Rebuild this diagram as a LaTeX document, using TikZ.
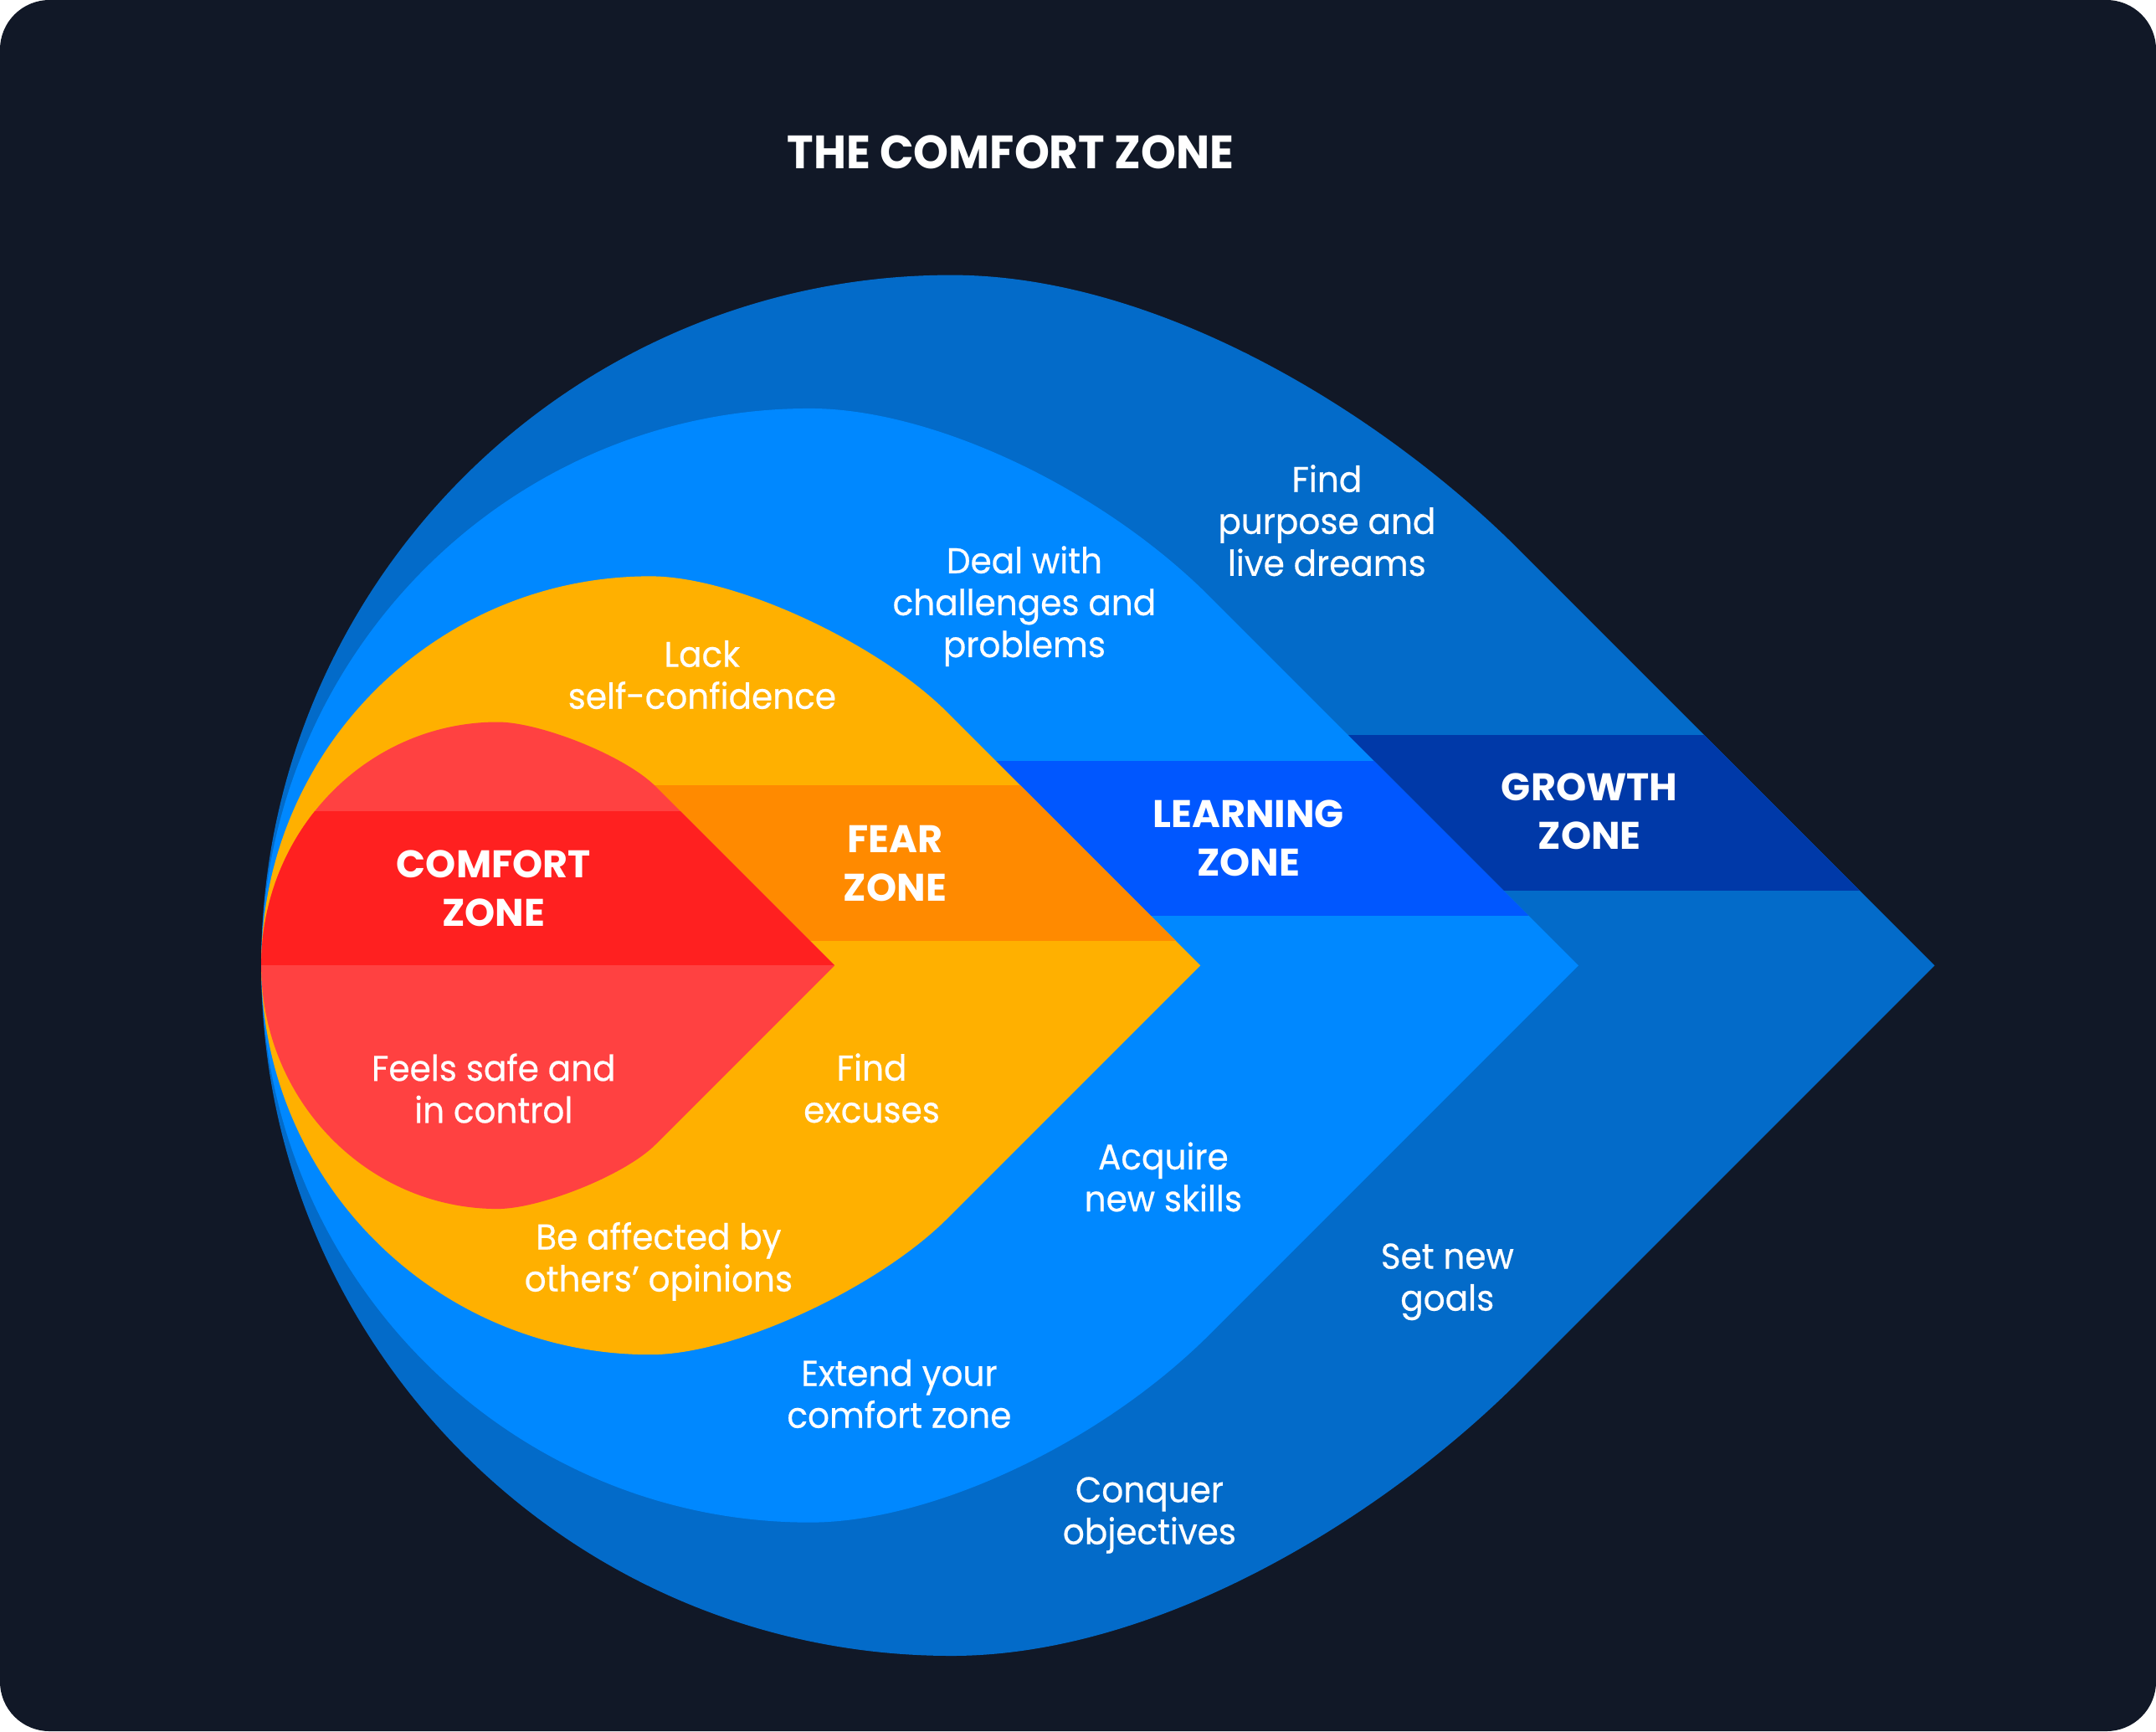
\documentclass[tikz,border=0pt]{standalone}
\usepackage{fontspec}
\setmainfont{Poppins}
\newfontfamily\bodyfont{Poppins}[FakeBold=0.5,FakeStretch=0.95]
\newfontfamily\titlefont{Poppins}[FakeStretch=0.955]
\definecolor{bg}{HTML}{111827}
\definecolor{growA}{HTML}{036BC9}
\definecolor{growB}{HTML}{0039A8}
\definecolor{learnA}{HTML}{0088FF}
\definecolor{learnB}{HTML}{0057FF}
\definecolor{fearA}{HTML}{FFB000}
\definecolor{fearB}{HTML}{FF8A00}
\definecolor{comfA}{HTML}{FF4141}
\definecolor{comfB}{HTML}{FF2020}
% #1=h, #2=x of top, #3=x of tip, #4=d (45 deg part), #5=k1, #6=k2
\newcommand\zonepath[6]{%
 (190,702) .. controls (190,{702-0.5523*#1}) and ({#2-0.5523*(#2-190)},{702-#1}) .. (#2,{702-#1})
 .. controls ({#2+#5},{702-#1}) and ({#3-#4-#6},{702-#4-#6}) .. ({#3-#4},{702-#4})
 -- (#3,702) -- ({#3-#4},{702+#4})
 .. controls ({#3-#4-#6},{702+#4+#6}) and ({#2+#5},{702+#1}) .. (#2,{702+#1})
 .. controls ({#2-0.5523*(#2-190)},{702+#1}) and (190,{702+0.5523*#1}) .. (190,702) -- cycle}
\tikzset{
 txt/.style={text=white, font=\bodyfont\fontsize{26}{30.5}\selectfont, align=center, anchor=base, inner sep=0pt},
 lbl/.style={text=white, font=\bfseries\fontsize{28}{35}\selectfont, align=center, anchor=base, inner sep=0pt},
 ttl/.style={text=white, font=\titlefont\bfseries\fontsize{34}{40}\selectfont, anchor=base, inner sep=0pt}
}
\begin{document}
\begin{tikzpicture}[x=1pt,y=-1pt]
\useasboundingbox (0,0) rectangle (1568,1258.78);
\fill[white] (0,0) rectangle (1568,1258.78);
\fill[bg, rounded corners=36pt] (0,0) rectangle (1568,1258.78);
% growth zone
\fill[growA] \zonepath{502}{692}{1407}{302}{150}{100};
\begin{scope}
 \clip \zonepath{502}{692}{1407}{302}{150}{100};
 \fill[growB] (520,534.5) rectangle (1500,647.5);
\end{scope}
% learning zone
\fill[learnA] \zonepath{405}{589}{1148}{268}{88}{80};
\begin{scope}
 \clip \zonepath{405}{589}{1148}{268}{88}{80};
 \fill[learnB] (420,553) rectangle (1500,666);
\end{scope}
% fear zone
\fill[fearA] \zonepath{283}{473}{873}{184}{62}{50};
\begin{scope}
 \clip \zonepath{283}{473}{873}{184}{62}{50};
 \fill[fearB] (320,571) rectangle (1500,684);
\end{scope}
% comfort zone
\fill[comfA] \zonepath{177}{362}{607}{130}{30}{23};
\begin{scope}
 \clip \zonepath{177}{362}{607}{130}{30}{23};
 \fill[comfB] (150,590) rectangle (1500,702);
\end{scope}
% title
\node[ttl] (title) at (735,122.8) {THE COMFORT ZONE};
% zone labels (anchor = baseline of the last line)
\node[lbl] (comfort) at (359,673.5) {COMFORT\\ZONE};
\node[lbl] (fear) at (651,655) {FEAR\\ZONE};
\node[lbl] (learning) at (908,636.7) {LEARNING\\ZONE};
\node[lbl] (growth) at (1156,617.3) {GROWTH\\ZONE};
% texts
\node[txt] (purpose) at (965,418.7) {Find\\purpose and\\live dreams};
\node[txt] (deal) at (745,477.8) {Deal with\\challenges and\\problems};
\node[txt] (lack) at (510.6,515.4) {Lack\\self-confidence};
\node[txt] (feels) at (359,816.4) {Feels safe and\\in control};
\node[txt] (excuses) at (634,816.2) {Find\\excuses};
\node[txt] (acquire) at (846,880.8) {Acquire\\new skills};
\node[txt] (affected) at (479,939) {Be affected by\\others’ opinions};
\node[txt] (goals) at (1052.6,953) {Set new\\goals};
\node[txt] (extend) at (654,1038.2) {Extend your\\comfort zone};
\node[txt] (conquer) at (836,1122.8) {Conquer\\objectives};
\end{tikzpicture}
\end{document}
